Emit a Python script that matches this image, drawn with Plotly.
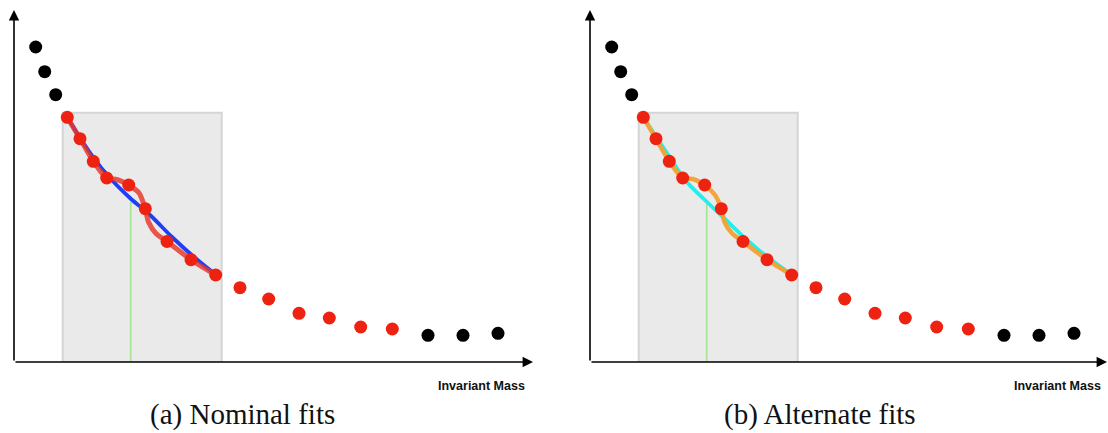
import plotly.graph_objects as go

# Binned invariant-mass spectrum (arbitrary units)
mass = [21.7, 30.7, 41.7, 53.3, 66.0, 79.3, 92.7, 114.7, 131.3, 153.0, 177.0,
        201.7, 226.0, 254.7, 285.0, 315.3, 346.7, 378.3, 414.0, 449.0, 484.0]
events = [315.0, 290.3, 267.3, 244.7, 223.3, 200.7, 184.0, 177.0, 153.3, 120.5, 102.3,
          87.0, 74.3, 63.0, 48.7, 44.0, 35.0, 33.0, 26.7, 26.7, 28.7]
in_range = [False] * 3 + [True] * 15 + [False] * 3

# Fit window and signal hypothesis
window_lo, window_hi, window_top = 48.7, 207.7, 249.3
signal_mass, signal_top = 116.7, 160.0

# Background-only fits (nominal / alternate)
bkg_mass = [53.0, 79.0, 96.0, 116.0, 136.0, 158.0, 180.0, 201.0]
bkg_nominal = [245.0, 205.0, 184.0, 164.0, 147.0, 125.0, 105.0, 88.0]
bkg_alternate = [245.0, 206.0, 181.0, 161.0, 142.0, 121.0, 103.0, 88.0]

# Signal+background fits (nominal / alternate)
sb_mass = [53.3, 66.0, 79.3, 92.7, 103.0, 114.7, 125.0, 131.3, 134.5, 142.0, 153.0, 177.0, 201.7]
sb_nominal = [244.7, 223.3, 200.7, 184.0, 182.5, 177.0, 169.0, 153.3, 140.0, 128.5, 120.5, 102.3, 87.0]
sb_alternate = [244.7, 223.3, 200.7, 184.0, 183.0, 177.0, 167.0, 153.3, 140.0, 128.7, 120.5, 102.3, 87.0]

panels = [
    dict(ax="x", ay="y", caption="(a) Nominal fits", bkg=bkg_nominal, sb=sb_nominal,
         bkg_color="#1f3ff5", sb_color="rgba(232,52,40,0.82)", sb_w=5),
    dict(ax="x2", ay="y2", caption="(b) Alternate fits", bkg=bkg_alternate, sb=sb_alternate,
         bkg_color="#22eeee", sb_color="rgba(246,160,50,0.95)", sb_w=4.5),
]

W, H = 1108, 433
fig = go.Figure()

red_m = [m for m, u in zip(mass, in_range) if u]
red_e = [e for e, u in zip(events, in_range) if u]
blk_m = [m for m, u in zip(mass, in_range) if not u]
blk_e = [e for e, u in zip(events, in_range) if not u]

for p in panels:
    fig.add_trace(go.Scatter(x=[signal_mass, signal_mass], y=[0, signal_top], mode="lines",
                             line=dict(color="#a4e394", width=1.6),
                             xaxis=p["ax"], yaxis=p["ay"], showlegend=False))
    fig.add_trace(go.Scatter(x=bkg_mass, y=p["bkg"], mode="lines",
                             line=dict(color=p["bkg_color"], width=3.8, shape="spline", smoothing=1.0),
                             xaxis=p["ax"], yaxis=p["ay"], showlegend=False))
    fig.add_trace(go.Scatter(x=sb_mass, y=p["sb"], mode="lines",
                             line=dict(color=p["sb_color"], width=p["sb_w"], shape="spline", smoothing=0.8),
                             xaxis=p["ax"], yaxis=p["ay"], showlegend=False))
    fig.add_trace(go.Scatter(x=blk_m, y=blk_e, mode="markers",
                             marker=dict(color="#000000", size=13),
                             xaxis=p["ax"], yaxis=p["ay"], showlegend=False))
    fig.add_trace(go.Scatter(x=red_m, y=red_e, mode="markers",
                             marker=dict(color="#ee2211", size=13),
                             xaxis=p["ax"], yaxis=p["ay"], showlegend=False))
    fig.add_shape(type="rect", xref=p["ax"], yref=p["ay"],
                  x0=window_lo, x1=window_hi, y0=0, y1=window_top,
                  fillcolor="#eaeaea", line=dict(color="#d5d5d5", width=2), layer="below")

# Axis placement in pixels
x0a, x1a = 14, 533
x0b, x1b = 590, 1108
ybot, ytop = 362, 10

def px(x):
    return x / W

def py(y):
    return 1 - y / H

axis_style = dict(showgrid=False, zeroline=False, showticklabels=False, showline=False, ticks="")
fig.update_layout(
    width=W, height=H, margin=dict(l=0, r=0, t=0, b=0),
    paper_bgcolor="white", plot_bgcolor="rgba(0,0,0,0)",
    xaxis=dict(domain=[px(x0a), px(x1a)], range=[0, x1a - x0a], **axis_style),
    yaxis=dict(domain=[py(ybot), py(ytop)], range=[0, ybot - ytop], **axis_style),
    xaxis2=dict(domain=[px(x0b), px(x1b)], range=[0, x1b - x0b], **axis_style),
    yaxis2=dict(domain=[py(ybot), py(ytop)], range=[0, ybot - ytop], anchor="x2", **axis_style),
)

annotations = []
for xl, xr, cap_x, lab_x, cap in [(x0a, x1a, 242, 527, panels[0]["caption"]),
                                  (x0b, x1b - 1, 820, 1103, panels[1]["caption"])]:
    # horizontal axis arrow
    annotations.append(dict(xref="paper", yref="paper", x=px(xr), y=py(ybot), text="",
                            showarrow=True, ax=-(xr - xl), ay=0, arrowhead=2, arrowsize=1.3,
                            arrowwidth=1.6, arrowcolor="#000000", standoff=0))
    # vertical axis arrow
    annotations.append(dict(xref="paper", yref="paper", x=px(xl), y=py(ytop), text="",
                            showarrow=True, ax=0, ay=ybot - ytop, arrowhead=2, arrowsize=1.3,
                            arrowwidth=1.6, arrowcolor="#000000", standoff=0))
    annotations.append(dict(xref="paper", yref="paper", x=px(lab_x), y=py(386),
                            text="<b>Invariant Mass</b>", showarrow=False,
                            xanchor="right", yanchor="middle",
                            font=dict(family="Liberation Sans, Arial", size=12.5, color="#111111")))
    annotations.append(dict(xref="paper", yref="paper", x=px(cap_x), y=py(414),
                            text=cap, showarrow=False, xanchor="center", yanchor="middle",
                            font=dict(family="Liberation Serif, Times New Roman", size=29, color="#111111")))
fig.update_layout(annotations=annotations)

fig.write_html("out.html")
